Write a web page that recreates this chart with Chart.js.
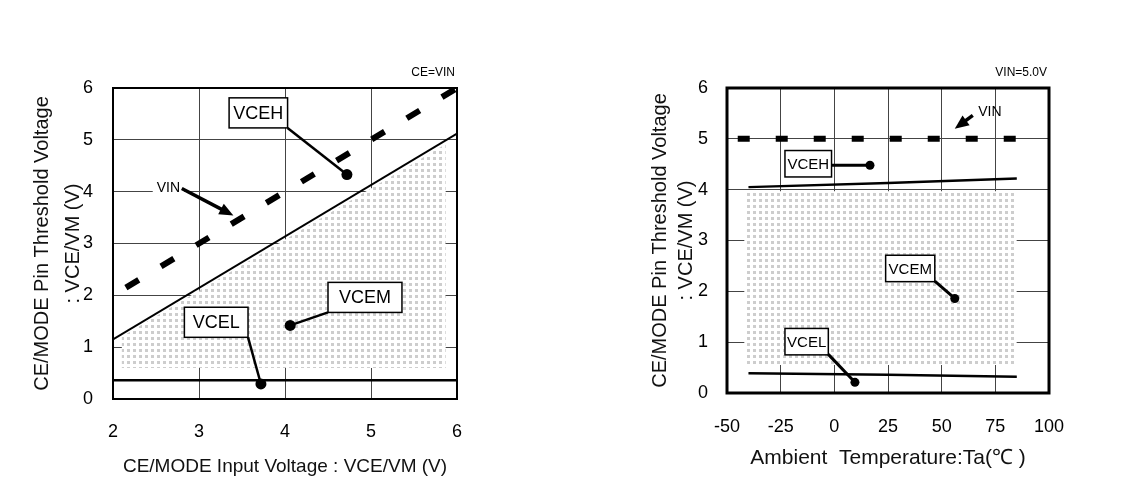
<!DOCTYPE html>
<html>
<head>
<meta charset="utf-8">
<script src="https://cdn.jsdelivr.net/npm/chart.js@4.4.1/dist/chart.umd.min.js"></script>
<style>
  html, body { margin: 0; padding: 0; background: #fff; }
  body { width: 1125px; height: 482px; position: relative; overflow: hidden; }
  #left { position: absolute; left: 0; top: 0; }
  #right { position: absolute; left: 560px; top: 0; }
</style>
</head>
<body>
<canvas id="left" width="480" height="482"></canvas>
<canvas id="right" width="565" height="482"></canvas>
<script>
// ─────────────────────────────────────────────
//  DATA
// ─────────────────────────────────────────────

// left: threshold vs CE/MODE input voltage (CE=VIN)
const inputV = [2, 6];
const vinLeftX = [2.15, 6];
const vinLeftY = [2.15, 6];
const vcehLeft = [1.15, 5.12];
const vcelLeft = [0.36, 0.36];
const midLeftX = [2.1, 5.87];
const midLeftTop = [1.2, 4.92];
const midLeftBottom = 0.6;

// right: threshold vs ambient temperature (VIN=5.0V)
const tempC = [-40, 25, 85];
const vcehRight = [4.05, 4.13, 4.22];
const vcelRight = [0.39, 0.36, 0.32];
const vinRightX = [-45, 85];
const vinRightY = [5, 5];
const midRightX = [-42, 85];
const midRightTop = [3.97, 3.97];
const midRightBottom = 0.55;

// labels: box corners, leader start, dot (data units)
const leftNotes = [
  { text: 'VCEH', box: [3.35, 5.81, 4.03, 5.23], from: [4.03, 5.23], dot: [4.72, 4.33] },
  { text: 'VCEM', box: [4.5, 2.25, 5.36, 1.67], from: [4.5, 1.67], dot: [4.06, 1.42] },
  { text: 'VCEL', box: [2.83, 1.77, 3.57, 1.19], from: [3.57, 1.19], dot: [3.72, 0.29] }
];
const rightNotes = [
  { text: 'VCEH', box: [-23, 4.77, -1.3, 4.25], from: [-1.3, 4.48], dot: [16.6, 4.48] },
  { text: 'VCEM', box: [23.9, 2.71, 46.8, 2.19], from: [46.8, 2.2], dot: [56.1, 1.86] },
  { text: 'VCEL', box: [-23, 1.27, -2.8, 0.75], from: [-2.8, 0.76], dot: [9.6, 0.21] }
];

const FONT = '"Liberation Sans", Arial, sans-serif';

function pts(xs, ys) {
  return xs.map((x, i) => ({ x, y: ys[i] }));
}

function dotPattern() {
  const c = document.createElement('canvas');
  c.width = 6; c.height = 6;
  const g = c.getContext('2d');
  g.fillStyle = '#fff';
  g.fillRect(0, 0, 6, 6);
  g.fillStyle = '#cdcdcd';
  g.fillRect(1, 1, 3, 3);
  return g.createPattern(c, 'repeat');
}

// boxes, leaders, arrow, frame, corner note
const notesPlugin = {
  id: 'notes',
  afterDatasetsDraw(chart, args, opts) {
    const { ctx, chartArea: a, scales: { x, y } } = chart;
    const px = v => x.getPixelForValue(v);
    const py = v => y.getPixelForValue(v);
    ctx.save();
    ctx.strokeStyle = '#000';
    ctx.fillStyle = '#000';

    opts.items.forEach(n => {
      ctx.lineWidth = opts.leader;
      ctx.beginPath();
      ctx.moveTo(px(n.from[0]), py(n.from[1]));
      ctx.lineTo(px(n.dot[0]), py(n.dot[1]));
      ctx.stroke();
      ctx.beginPath();
      ctx.arc(px(n.dot[0]), py(n.dot[1]), opts.dotR, 0, Math.PI * 2);
      ctx.fill();
      const x0 = px(n.box[0]), y0 = py(n.box[1]);
      const w = px(n.box[2]) - x0, h = py(n.box[3]) - y0;
      ctx.fillStyle = '#fff';
      ctx.fillRect(x0, y0, w, h);
      ctx.lineWidth = 1.5;
      ctx.strokeRect(x0, y0, w, h);
      ctx.fillStyle = '#000';
      ctx.font = opts.boxFont;
      ctx.textAlign = 'center';
      ctx.textBaseline = 'middle';
      ctx.fillText(n.text, x0 + w / 2, y0 + h / 2 + 1);
    });

    // VIN arrow
    const ar = opts.arrow;
    const sx = px(ar.from[0]), sy = py(ar.from[1]);
    const ex = px(ar.to[0]), ey = py(ar.to[1]);
    const ang = Math.atan2(ey - sy, ex - sx);
    ctx.font = opts.arrowFont;
    ctx.textBaseline = 'middle';
    ctx.textAlign = ar.align;
    const tx = px(ar.text[0]), ty = py(ar.text[1]);
    if (ar.clear) {
      const tw = ctx.measureText('VIN').width;
      const lx = ar.align === 'right' ? tx - tw : tx;
      ctx.fillStyle = '#fff';
      ctx.fillRect(lx - 4, ty - 7, tw + 8, 14);
      ctx.fillStyle = '#000';
    }
    ctx.fillText('VIN', tx, ty);
    ctx.lineWidth = 3.5;
    ctx.beginPath();
    ctx.moveTo(sx, sy);
    ctx.lineTo(ex - Math.cos(ang) * 10, ey - Math.sin(ang) * 10);
    ctx.stroke();
    ctx.beginPath();
    ctx.moveTo(ex, ey);
    ctx.lineTo(ex - Math.cos(ang) * 14 + Math.sin(ang) * 6, ey - Math.sin(ang) * 14 - Math.cos(ang) * 6);
    ctx.lineTo(ex - Math.cos(ang) * 14 - Math.sin(ang) * 6, ey - Math.sin(ang) * 14 + Math.cos(ang) * 6);
    ctx.closePath();
    ctx.fill();

    // frame
    ctx.lineWidth = opts.frame;
    ctx.strokeRect(a.left, a.top, a.right - a.left, a.bottom - a.top);

    // condition note
    ctx.font = '12px ' + FONT;
    ctx.textAlign = 'right';
    ctx.textBaseline = 'middle';
    ctx.fillText(opts.corner, a.right - 2, a.top - 15);
    ctx.restore();
  }
};

function axis(min, max, step, title, opts) {
  return {
    type: 'linear', min, max,
    afterFit: s => {
      // fixed box sizes so the plot area lands where the original has it
      if (opts.width) { s.width = opts.width; s.paddingTop = 0; s.paddingBottom = 0; }
      if (opts.height) { s.height = opts.height; s.paddingLeft = 0; s.paddingRight = 0; }
    },
    ticks: { stepSize: step, color: '#000', padding: opts.pad, font: { family: FONT, size: 18 } },
    grid: { color: '#444', lineWidth: 1, drawTicks: false },
    border: { display: false },
    title: {
      display: true, text: title, color: '#111',
      font: { family: FONT, size: opts.titleSize, lineHeight: opts.lineHeight },
      padding: opts.titlePad
    }
  };
}

function lineSet(data, width, dash, order) {
  return {
    data, borderColor: '#000', borderWidth: width, borderDash: dash || [],
    borderCapStyle: 'butt', pointRadius: 0, fill: false, tension: 0, order
  };
}

function zoneSet(data, bottom) {
  return {
    data, borderWidth: 0, pointRadius: 0, tension: 0, order: 9,
    backgroundColor: dotPattern(), fill: { value: bottom }
  };
}

// ─────────────────────────────────────────────
//  LEFT CHART
// ─────────────────────────────────────────────
new Chart(document.getElementById('left'), {
  type: 'line',
  data: {
    datasets: [
      zoneSet(pts(midLeftX, midLeftTop), midLeftBottom),
      lineSet(pts(inputV, vcehLeft), 2, null, 2),
      lineSet(pts(inputV, vcelLeft), 2.5, null, 2),
      lineSet(pts(vinLeftX, vinLeftY), 6, [15, 26], 1)
    ]
  },
  options: {
    responsive: false, animation: false,
    layout: { padding: { top: 88, right: 23, left: 0, bottom: 0 } },
    plugins: {
      legend: { display: false }, tooltip: { enabled: false },
      notes: {
        items: leftNotes, leader: 2.5, dotR: 5.5, frame: 2,
        boxFont: '18px ' + FONT, arrowFont: '14px ' + FONT,
        arrow: { from: [2.8, 4.06], to: [3.4, 3.54], text: [2.78, 4.06], align: 'right', clear: true },
        corner: 'CE=VIN'
      }
    },
    scales: {
      x: axis(2, 6, 1, 'CE/MODE Input Voltage : VCE/VM (V)',
        { height: 83, pad: 22, titleSize: 19, lineHeight: 1.2, titlePad: { top: 0, bottom: 4 } }),
      y: axis(0, 6, 1, ['CE/MODE Pin Threshold Voltage', ': VCE/VM (V)'],
        { width: 113, pad: 20, titleSize: 20, lineHeight: 1.55, titlePad: { top: 27, bottom: 0 } })
    }
  },
  plugins: [notesPlugin]
});

// ─────────────────────────────────────────────
//  RIGHT CHART
// ─────────────────────────────────────────────
new Chart(document.getElementById('right'), {
  type: 'line',
  data: {
    datasets: [
      zoneSet(pts(midRightX, midRightTop), midRightBottom),
      lineSet(pts(tempC, vcehRight), 2.5, null, 2),
      lineSet(pts(tempC, vcelRight), 2.5, null, 2),
      lineSet(pts(vinRightX, vinRightY), 6, [12, 26], 1)
    ]
  },
  options: {
    responsive: false, animation: false,
    layout: { padding: { top: 88, right: 76, left: 0, bottom: 0 } },
    plugins: {
      legend: { display: false }, tooltip: { enabled: false },
      notes: {
        items: rightNotes, leader: 3, dotR: 4.5, frame: 3,
        boxFont: '15px ' + FONT, arrowFont: '14px ' + FONT,
        arrow: { from: [64.5, 5.46], to: [56.1, 5.2], text: [67, 5.53], align: 'left', clear: false },
        corner: 'VIN=5.0V'
      }
    },
    scales: {
      x: axis(-50, 100, 25, 'Ambient  Temperature:Ta(\u2103 )',
        { height: 89, pad: 23, titleSize: 21, lineHeight: 1.2, titlePad: { top: 0, bottom: 11 } }),
      y: axis(0, 6, 1, ['CE/MODE Pin Threshold Voltage', ': VCE/VM (V)'],
        { width: 167, pad: 19, titleSize: 20, lineHeight: 1.3, titlePad: { top: 87, bottom: 0 } })
    }
  },
  plugins: [notesPlugin]
});
</script>
</body>
</html>
